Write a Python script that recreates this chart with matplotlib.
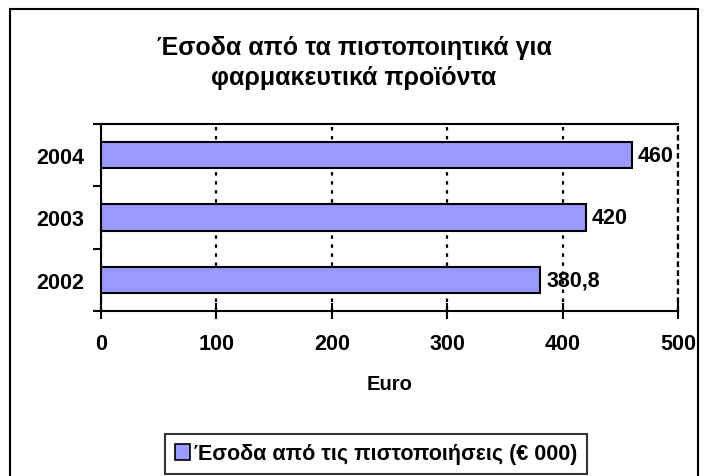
import matplotlib
matplotlib.use("Agg")
import matplotlib.pyplot as plt
from matplotlib.patches import Rectangle, Patch

plt.rcParams['font.family'] = ['Liberation Sans', 'DejaVu Sans']
plt.rcParams['font.weight'] = 'bold'
plt.rcParams['lines.scale_dashes'] = False

years = ['2002', '2003', '2004']
revenue = [380.8, 420, 460]
value_labels = ['380,8', '420', '460']
x_ticks = [0, 100, 200, 300, 400, 500]

title = 'Έσοδα από τα πιστοποιητικά για\nφαρμακευτικά προϊόντα'
series_name = 'Έσοδα από τις πιστοποιήσεις (€ 000)'
bar_color = '#9999FF'

W, H = 708, 477
fig = plt.figure(figsize=(W / 100, H / 100), dpi=100)
fig.patch.set_facecolor('white')

# chart frame, bottom edge falls below the canvas
fig.add_artist(Rectangle((10 / W, -0.05), 688 / W, 1.05 - 10 / H,
                         transform=fig.transFigure, fill=False,
                         edgecolor='black', linewidth=1.5))

ax = fig.add_axes([101 / W, 1 - 312 / H, 577 / W, 187 / H])
ypos = list(range(len(years)))
ax.barh(ypos, revenue, height=0.42, color=bar_color,
        edgecolor='black', linewidth=1.5, zorder=3)

for y, v, lab in zip(ypos, revenue, value_labels):
    ax.text(v + 5, y, lab, va='center', ha='left', fontsize=15.5,
            fontweight='bold', zorder=4)

ax.set_xlim(0, 500)
ax.set_ylim(-0.5, 2.5)
ax.set_xticks(x_ticks)
ax.set_xticklabels([str(t) for t in x_ticks], fontsize=15.5, fontweight='bold')
ax.set_yticks(ypos)
ax.set_yticklabels(years, fontsize=15.5, fontweight='bold')
ax.set_yticks([-0.5, 0.5, 1.5, 2.5], minor=True)
ax.tick_params(axis='y', which='major', length=0, pad=12)
ax.tick_params(axis='y', which='minor', length=6, width=1.5, direction='out')
ax.tick_params(axis='x', which='major', length=12, width=1.5,
               direction='inout', pad=10)

ax.grid(axis='x', color='black', linestyle=(0, (2.5, 4)), linewidth=1.6,
        zorder=1)
ax.set_axisbelow(True)

for side in ['left', 'bottom', 'top']:
    ax.spines[side].set_linewidth(1.5)
ax.spines['right'].set_linestyle((0, (2.5, 4)))
ax.spines['right'].set_linewidth(1.6)

ax.set_xlabel('Euro', fontsize=14.5, fontweight='bold', labelpad=14)

fig.text(354 / W, 1 - 63 / H, title, ha='center', va='center',
         fontsize=18, fontweight='bold', linespacing=1.3)

handle = Patch(facecolor=bar_color, edgecolor='black', linewidth=1.2)
leg = fig.legend([handle], [series_name], loc='center',
                 bbox_to_anchor=(376 / W, 1 - 455 / H), frameon=True,
                 fancybox=False, edgecolor='black',
                 prop={'weight': 'bold', 'size': 15.5},
                 handlelength=0.7, handleheight=0.7, handletextpad=0.2,
                 borderpad=0.45, borderaxespad=0)
leg.get_frame().set_linewidth(1.5)

fig.savefig('out.png', dpi=100)
